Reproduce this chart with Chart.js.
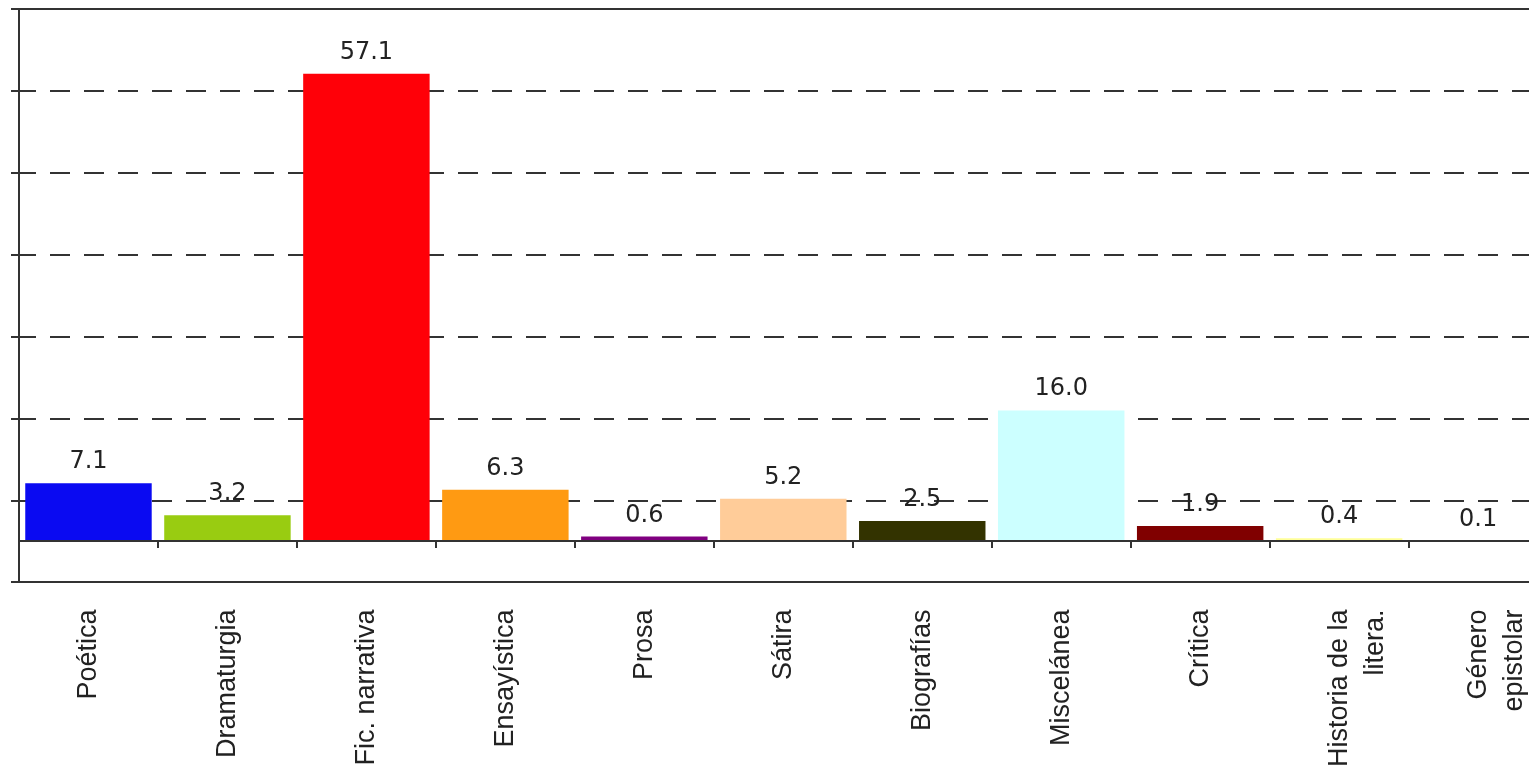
<!DOCTYPE html>
<html lang="es">
<head>
<meta charset="utf-8">
<title>Géneros literarios</title>
<script src="https://cdn.jsdelivr.net/npm/chart.js@4.4.1/dist/chart.umd.min.js"></script>
<style>
  html, body { margin: 0; padding: 0; background: #fff; overflow: hidden; }
  #caja { width: 1578px; height: 770px; }
</style>
</head>
<body>
<div id="caja"><canvas id="grafica"></canvas></div>
<script>
// datos (porcentajes)
const categorias = ["Poética", "Dramaturgia", "Fic. narrativa", "Ensayística", "Prosa", "Sátira",
  "Biografías", "Miscelánea", "Crítica", ["Historia de la", "litera."], ["Género", "epistolar"]];
const valores = [7.1, 3.2, 57.1, 6.3, 0.6, 5.2, 2.5, 16.0, 1.9, 0.4, 0.1];
const colores = ["#0a0af2", "#99cc11", "#ff0008", "#ff9a12", "#800080", "#ffcc99",
  "#333300", "#ccffff", "#800000", "#ffff99", "#0066cc"];
const ejeMin = -5;
const ejeMax = 65;
const paso = 10;

// línea del cero con sus marcas, y los valores encima de cada barra
const extras = {
  id: "extras",
  afterDatasetsDraw(chart) {
    const { ctx, chartArea, scales: { x, y } } = chart;
    const y0 = Math.round(y.getPixelForValue(0));
    const ancho = x.getPixelForValue(1) - x.getPixelForValue(0);

    ctx.save();
    ctx.strokeStyle = "#333";
    ctx.lineWidth = 2;
    ctx.beginPath();
    ctx.moveTo(chartArea.left, y0);
    ctx.lineTo(chartArea.right, y0);
    for (let i = 1; i <= categorias.length; i++) {
      const px = Math.round(x.getPixelForValue(i) - ancho / 2);
      ctx.moveTo(px, y0);
      ctx.lineTo(px, y0 + 7);
    }
    ctx.stroke();

    ctx.font = "24px 'DejaVu Sans'";
    ctx.fillStyle = "#222";
    ctx.textAlign = "center";
    ctx.textBaseline = "alphabetic";
    chart.getDatasetMeta(0).data.forEach((barra, i) => {
      ctx.fillText(valores[i].toFixed(1), barra.x, barra.y - 15);
    });
    ctx.restore();
  }
};

const ctx = document.getElementById("grafica").getContext("2d");
new Chart(ctx, {
  type: "bar",
  data: {
    labels: categorias,
    datasets: [{
      data: valores,
      backgroundColor: colores,
      borderWidth: 0,
      barPercentage: 1,
      categoryPercentage: 0.91
    }]
  },
  options: {
    responsive: true,
    maintainAspectRatio: false,
    animation: false,
    // el alto de las etiquetas cuenta el padding dos veces, de ahí el negativo
    layout: { padding: { left: 11, top: 9, right: 0, bottom: -24 } },
    plugins: {
      legend: { display: false },
      tooltip: { enabled: false }
    },
    scales: {
      x: {
        grid: { display: false, drawTicks: false, tickLength: 0 },
        border: { color: "#333", width: 2 },
        ticks: {
          autoSkip: false,
          minRotation: 90,
          maxRotation: 90,
          padding: 27,
          color: "#222",
          font: { family: "'Liberation Sans', Arial, sans-serif", size: 27, lineHeight: 1.35 }
        }
      },
      y: {
        min: ejeMin,
        max: ejeMax,
        ticks: { stepSize: paso, display: false },
        grid: { color: "#333", lineWidth: 2, tickLength: 8 },
        border: {
          color: "#333",
          width: 2,
          dash: (c) => (c.tick && (c.tick.value === ejeMax || c.tick.value === ejeMin)) ? [] : [20, 14],
          dashOffset: 4
        }
      }
    }
  },
  plugins: [extras]
});
</script>
</body>
</html>
